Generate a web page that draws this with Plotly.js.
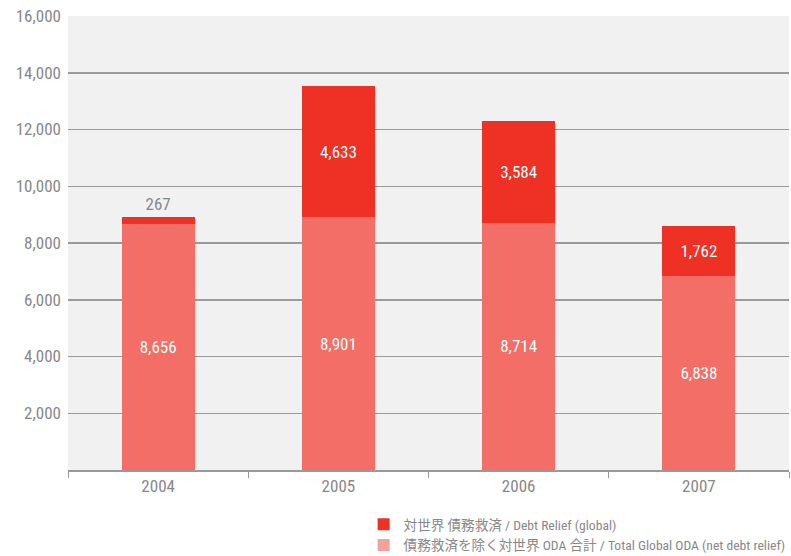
<!DOCTYPE html>
<html><head><meta charset="utf-8">
<script src="https://cdn.plot.ly/plotly-3.0.1.min.js"></script>
<style>body{margin:0;background:#fff}</style>
</head><body><div id="chart" style="width:791px;height:556px"></div>
<script>
const years = ['2004','2005','2006','2007'];
const odaNet = [8656, 8901, 8714, 6838];
const debtRelief = [267, 4633, 3584, 1762];
const yTicks = [2000,4000,6000,8000,10000,12000,14000,16000];
const nameDebt = '対世界 債務救済 / Debt Relief (global)';
const nameOda = '債務救済を除く対世界 ODA 合計 / Total Global ODA (net debt relief)';
const FONT = '"Liberation Sans Narrow", "Roboto Condensed", "Noto Sans CJK JP", sans-serif';
const fmt = v => v.toLocaleString('en-US');

const traces = [
  {type:'bar', x:years, y:odaNet, name:nameOda, showlegend:false,
   marker:{color:'#F26E66'}, text:odaNet.map(fmt), textposition:'inside', insidetextanchor:'middle',
   textfont:{color:'#ffffff', size:17, family:FONT}, constraintext:'none', textangle:0, hoverinfo:'none'},
  {type:'bar', x:years, y:debtRelief, name:nameDebt, showlegend:false,
   marker:{color:'#EE3124'}, text:debtRelief.map(fmt),
   textposition:debtRelief.map(v => v < 1000 ? 'outside' : 'inside'), insidetextanchor:'middle',
   insidetextfont:{color:'#ffffff', size:17, family:FONT},
   outsidetextfont:{color:'#888888', size:17, family:FONT},
   constraintext:'none', textangle:0, cliponaxis:false, hoverinfo:'none'},
  {type:'bar', x:[null], y:[null], name:nameDebt, marker:{color:'#EE3124'}, showlegend:true, hoverinfo:'none'},
  {type:'bar', x:[null], y:[null], name:nameOda, marker:{color:'#F5A09A'}, showlegend:true, hoverinfo:'none'}
];

const layout = {
  width:791, height:556,
  margin:{l:68, r:2, t:16, b:86},
  paper_bgcolor:'#ffffff', plot_bgcolor:'#F1F1F1',
  barmode:'stack', bargap:0.595,
  font:{family:FONT, color:'#888888', size:17},
  xaxis:{type:'category', tickson:'boundaries', ticks:'outside', ticklen:6, tickcolor:'#999',
         showline:true, linecolor:'#999', linewidth:1.5, showgrid:false, automargin:false,
         tickfont:{size:17, color:'#888'}, fixedrange:true},
  yaxis:{range:[0,16000], tickvals:yTicks, ticktext:yTicks.map(fmt), showgrid:true, automargin:false,
         gridcolor:'#9a9a9a', gridwidth:1.5, zeroline:false, ticks:'', ticklabelstandoff:6,
         tickfont:{size:17, color:'#888'}, fixedrange:true},
  showlegend:true,
  legend:{x:0.41, xanchor:'left', xref:'paper', y:0.0845, yref:'container', yanchor:'top',
          orientation:'v', traceorder:'normal',
          font:{size:13.6, color:'#888', family:FONT}, itemwidth:30, tracegroupgap:0,
          bgcolor:'rgba(0,0,0,0)'}
};
Plotly.newPlot('chart', traces, layout, {staticPlot:true});
</script></body></html>
